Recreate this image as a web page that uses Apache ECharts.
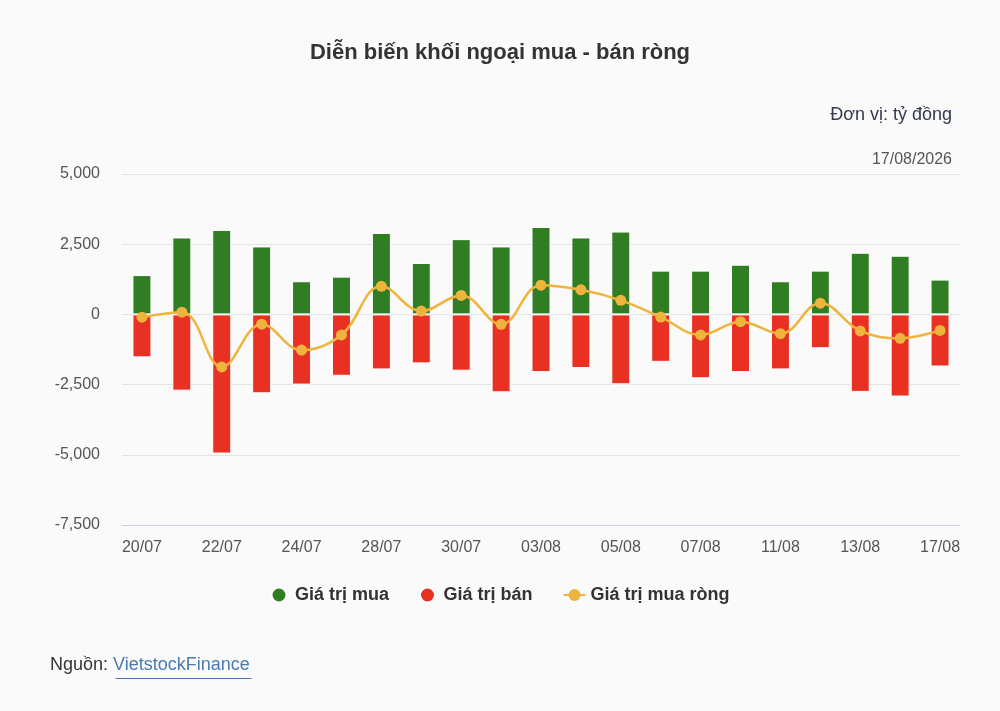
<!DOCTYPE html>
<html>
<head>
<meta charset="utf-8">
<title>Diễn biến khối ngoại mua - bán ròng</title>
<script src="https://cdn.jsdelivr.net/npm/echarts@6/dist/echarts.min.js"></script>
<style>
  html, body { margin: 0; padding: 0; background: #fafafa; }
  #chart { width: 1000px; height: 711px; }
</style>
</head>
<body>
<div id="chart"></div>
<script>
// dữ liệu (tỷ đồng)
const dates = ['20/07', '21/07', '22/07', '23/07', '24/07', '27/07', '28/07', '29/07', '30/07', '31/07',
  '03/08', '04/08', '05/08', '06/08', '07/08', '10/08', '11/08', '12/08', '13/08', '14/08', '17/08'];
const buyValues = [1400, 2740, 3010, 2420, 1180, 1345, 2900, 1830, 2680, 2420,
  3115, 2740, 2950, 1560, 1560, 1770, 1180, 1560, 2195, 2090, 1240];
const sellValues = [-1530, -2715, -4955, -2810, -2500, -2185, -1960, -1745, -2005, -2775,
  -2055, -1910, -2490, -1690, -2275, -2055, -1960, -1205, -2760, -2925, -1855];
const netValues = [-100, 80, -1870, -350, -1270, -730, 1000, 120, 675, -355,
  1040, 875, 500, -95, -730, -260, -685, 400, -590, -850, -570];
const yTicks = [-7500, -5000, -2500, 0, 2500, 5000];

const FONT = '"Liberation Sans", Arial, sans-serif';
const chart = echarts.init(document.getElementById('chart'));

const option = {
  backgroundColor: '#fafafa',
  textStyle: { fontFamily: FONT },
  title: {
    text: 'Diễn biến khối ngoại mua - bán ròng',
    left: 'center',
    top: 37,
    textStyle: { fontFamily: FONT, fontSize: 22, fontWeight: 'bold', color: '#333333' }
  },
  graphic: [
    {
      type: 'text', right: 48, top: 106,
      style: { text: 'Đơn vị: tỷ đồng', font: '18px ' + FONT, fill: '#333a4d' }
    },
    {
      type: 'text', right: 48, top: 152,
      style: { text: '17/08/2026', font: '16px ' + FONT, fill: '#555555' }
    },
    {
      type: 'text', left: 50, top: 656,
      style: { text: 'Nguồn: ', font: '18px ' + FONT, fill: '#333333' }
    },
    {
      type: 'text', left: 113, top: 656,
      style: { text: 'VietstockFinance', font: '18px ' + FONT, fill: '#4a7bb0' }
    },
    {
      type: 'line', left: 113, top: 676,
      shape: { x1: 0, y1: 0, x2: 136, y2: 0 },
      style: { stroke: '#4a7bb0', lineWidth: 1 }
    }
  ],
  legend: {
    top: 581,
    left: 'center',
    itemGap: 30,
    itemWidth: 22,
    itemHeight: 15,
    textStyle: { fontFamily: FONT, fontSize: 18, fontWeight: 'bold', color: '#333333' },
    data: [
      { name: 'Giá trị mua', icon: 'circle' },
      { name: 'Giá trị bán', icon: 'circle' },
      { name: 'Giá trị mua ròng' }
    ]
  },
  grid: { left: 122, right: 40, top: 174, bottom: 186 },
  xAxis: {
    type: 'category',
    data: dates,
    axisTick: { show: false },
    axisLine: { show: true, onZero: false, lineStyle: { color: '#c8cfe6', width: 1 } },
    axisLabel: {
      interval: 1,
      color: '#555555',
      fontSize: 16,
      margin: 15,
      fontFamily: FONT
    }
  },
  yAxis: {
    type: 'value',
    min: yTicks[0],
    max: yTicks[yTicks.length - 1],
    interval: 2500,
    axisLabel: {
      color: '#555555',
      fontSize: 16,
      margin: 22,
      fontFamily: FONT,
      formatter: v => v.toLocaleString('en-US')
    },
    splitLine: {
      lineStyle: { color: '#e3e3e3', width: 1 }
    }
  },
  series: [
    {
      name: 'Giá trị mua',
      type: 'bar',
      data: buyValues,
      barWidth: 19,
      barGap: '-100%',
      itemStyle: { color: '#317d23', borderColor: '#ffffff', borderWidth: 1 }
    },
    {
      name: 'Giá trị bán',
      type: 'bar',
      data: sellValues,
      barWidth: 19,
      itemStyle: { color: '#e83122', borderColor: '#ffffff', borderWidth: 1 }
    },
    {
      name: 'Giá trị mua ròng',
      type: 'line',
      data: netValues,
      smooth: 0.4,
      symbol: 'circle',
      symbolSize: 11,
      z: 5,
      lineStyle: { color: '#efb43d', width: 2.5 },
      itemStyle: { color: '#efb43d' }
    }
  ]
};

chart.setOption(option);
</script>
</body>
</html>
